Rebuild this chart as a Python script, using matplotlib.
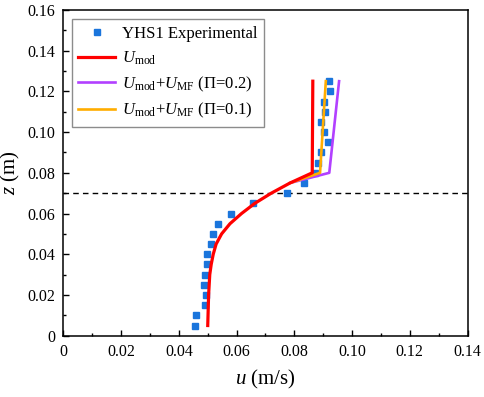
import matplotlib
matplotlib.use("Agg")
import matplotlib.pyplot as plt
from matplotlib.ticker import MultipleLocator, FuncFormatter

plt.rcParams['font.family'] = 'Liberation Serif'
plt.rcParams['mathtext.fontset'] = 'custom'
plt.rcParams['mathtext.rm'] = 'Liberation Serif'
plt.rcParams['mathtext.it'] = 'Liberation Serif:italic'

# Experimental data (YHS1)
z_exp = [0.005, 0.010, 0.015, 0.020, 0.025, 0.030, 0.035, 0.040, 0.045, 0.050,
         0.055, 0.060, 0.065, 0.070, 0.075, 0.080, 0.085, 0.090, 0.095, 0.100,
         0.105, 0.110, 0.115, 0.120, 0.125]
u_exp = [0.0456, 0.0461, 0.0489, 0.0493, 0.0488, 0.0491, 0.0496, 0.0499, 0.0511, 0.0517,
         0.0535, 0.0580, 0.0657, 0.0775, 0.0833, 0.0872, 0.0882, 0.0894, 0.0917, 0.0902,
         0.0894, 0.0905, 0.0903, 0.0925, 0.0921]

# Model profile U_mod
z_mod = [0.005, 0.010, 0.020, 0.030, 0.035, 0.040, 0.045, 0.050, 0.055, 0.060,
         0.065, 0.070, 0.075, 0.080, 0.125]
u_mod = [0.0500, 0.0501, 0.0503, 0.0507, 0.0512, 0.0519, 0.0529, 0.0548, 0.0577, 0.0617,
         0.0663, 0.0720, 0.0785, 0.0862, 0.0864]

# U_mod + U_MF, upper part
z_mf = [0.075, 0.080, 0.125]
u_mf_02 = [0.0785, 0.0921, 0.0955]
u_mf_01 = [0.0785, 0.0889, 0.0909]

fig = plt.figure(figsize=(4.84, 3.97), dpi=100)
ax = fig.add_axes([0.131, 0.1544, 0.835, 0.8206])

ax.axhline(0.07, color='black', ls=(0, (4, 3)), lw=1.0, zorder=1)
h_exp, = ax.plot(u_exp, z_exp, ls='none', marker='s', ms=5, color='#1a75dc',
                 mec='#1a75dc', zorder=2, label='YHS1 Experimental')
h_02, = ax.plot(u_mf_02, z_mf, color='#b240ff', lw=1.9, zorder=3,
                label=r'$U_{\rm mod}$+$U_{\rm MF}$ (Π=0.2)')
h_01, = ax.plot(u_mf_01, z_mf, color='#ffad00', lw=1.9, zorder=4,
                label=r'$U_{\rm mod}$+$U_{\rm MF}$ (Π=0.1)')
h_mod, = ax.plot(u_mod, z_mod, color='#ff0000', lw=2.3, zorder=5,
                 label=r'$U_{\rm mod}$')

ax.set_xlim(0, 0.14)
ax.set_ylim(0, 0.16)
ax.xaxis.set_major_locator(MultipleLocator(0.02))
ax.xaxis.set_minor_locator(MultipleLocator(0.01))
ax.yaxis.set_major_locator(MultipleLocator(0.02))
ax.yaxis.set_minor_locator(MultipleLocator(0.01))
fmt = FuncFormatter(lambda v, p: '0' if abs(v) < 1e-9 else '%.2f' % v)
ax.xaxis.set_major_formatter(fmt)
ax.yaxis.set_major_formatter(fmt)
ax.tick_params(which='both', direction='in', top=False, right=False,
               labelsize=11.5, width=1.0, pad=6)
ax.tick_params(which='major', length=4)
ax.tick_params(which='minor', length=2)
for s in ax.spines.values():
    s.set_linewidth(1.1)

ax.set_xlabel(r'$u$ (m/s)', fontsize=15, labelpad=6)
ax.set_ylabel(r'$z$ (m)', fontsize=15, labelpad=4)

leg = ax.legend(handles=[h_exp, h_mod, h_02, h_01], loc='upper left',
                bbox_to_anchor=(0.0203, 0.9714), borderaxespad=0,
                fontsize=12, fancybox=False, frameon=True, edgecolor='#707070',
                handlelength=2.2, handletextpad=0.4, labelspacing=0.45,
                borderpad=0.4)
leg.get_frame().set_linewidth(1.0)

fig.savefig('out.png', dpi=100)
